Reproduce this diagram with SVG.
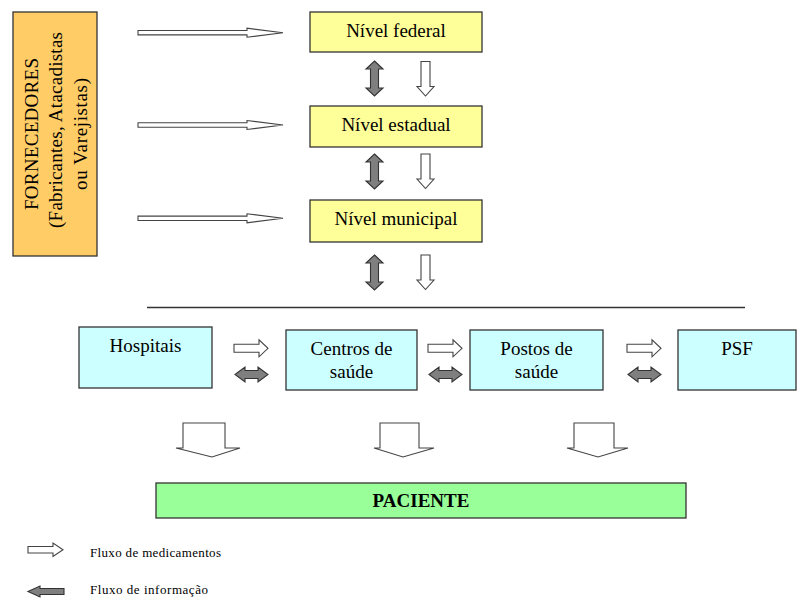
<svg xmlns="http://www.w3.org/2000/svg" width="797" height="598" viewBox="0 0 797 598">
<style>
.box{stroke:#333;stroke-width:1.3}
.t{font-family:"Liberation Serif","Times New Roman",serif;font-size:19px;fill:#000}
.tb{font-family:"Liberation Serif","Times New Roman",serif;font-size:19px;font-weight:bold;fill:#000}
.lg{font-family:"Liberation Serif","Times New Roman",serif;font-size:13px;fill:#000}
.ho{fill:#fff;stroke:#444;stroke-width:1.1;stroke-linejoin:miter}
.gr{fill:#7f7f7f;stroke:#333;stroke-width:1.1}
</style>
<defs>
<path id="hLong" d="M0,-2.2 H109 V-4.5 L145,0 L109,4.5 V2.2 H0 Z"/>
<path id="vDbl" d="M0,0 L8.5,8 H4 V27 H8.5 L0,35 L-8.5,27 H-4 V8 H-8.5 Z"/>
<path id="vDown" d="M-4.5,0 H4.5 V25 H8.5 L0,34.5 L-8.5,25 H-4.5 Z"/>
<path id="hRight" d="M0,-4 H25 V-8.5 L34,0 L25,8.5 V4 H0 Z"/>
<path id="hDbl" d="M0,0 L10,-7.5 V-4 H23 V-7.5 L33,0 L23,7.5 V4 H10 V7.5 Z"/>
</defs>

<g id="fornecedores">
<rect class="box" x="13" y="12" width="84" height="244" fill="#FFCC66"/>
<text class="t" transform="translate(38,210) rotate(-90)" textLength="152" lengthAdjust="spacing">FORNECEDORES</text>
<text class="t" transform="translate(62,228) rotate(-90)" textLength="196" lengthAdjust="spacing">(Fabricantes, Atacadistas</text>
<text class="t" transform="translate(87,190) rotate(-90)" textLength="112" lengthAdjust="spacing">ou Varejistas)</text>
</g>

<g id="nivel-federal">
<rect class="box" x="310" y="12" width="172" height="40" fill="#FFFF99"/>
<text class="t" x="396" y="37" text-anchor="middle">Nível federal</text>
</g>
<g id="nivel-estadual">
<rect class="box" x="310" y="106" width="172" height="41" fill="#FFFF99"/>
<text class="t" x="396" y="131" text-anchor="middle">Nível estadual</text>
</g>
<g id="nivel-municipal">
<rect class="box" x="310" y="200" width="172" height="42" fill="#FFFF99"/>
<text class="t" x="396" y="225" text-anchor="middle">Nível municipal</text>
</g>

<g id="hospitais">
<rect class="box" x="79" y="327" width="133" height="61" fill="#CCFFFF"/>
<text class="t" x="145.5" y="352" text-anchor="middle">Hospitais</text>
</g>
<g id="centros">
<rect class="box" x="286" y="330" width="131" height="60" fill="#CCFFFF"/>
<text class="t" x="351.5" y="355" text-anchor="middle">Centros de</text>
<text class="t" x="351.5" y="378" text-anchor="middle">saúde</text>
</g>
<g id="postos">
<rect class="box" x="470" y="330" width="133" height="60" fill="#CCFFFF"/>
<text class="t" x="536.5" y="355" text-anchor="middle">Postos de</text>
<text class="t" x="536.5" y="378" text-anchor="middle">saúde</text>
</g>
<g id="psf">
<rect class="box" x="678" y="330" width="118" height="60" fill="#CCFFFF"/>
<text class="t" x="737" y="355" text-anchor="middle">PSF</text>
</g>

<g id="paciente">
<rect class="box" x="156" y="483" width="530" height="35" fill="#99FF99"/>
<text class="tb" x="421" y="507" text-anchor="middle">PACIENTE</text>
</g>

<g id="connectors">
<use href="#hLong" class="ho" transform="translate(138,32.7)"/>
<use href="#hLong" class="ho" transform="translate(138,125)"/>
<use href="#hLong" class="ho" transform="translate(138,218.3)"/>

<use href="#vDbl" class="gr" transform="translate(374.5,61)"/>
<use href="#vDbl" class="gr" transform="translate(374.5,154)"/>
<use href="#vDbl" class="gr" transform="translate(374.5,255)"/>
<use href="#vDown" class="ho" transform="translate(425.5,61.5)"/>
<use href="#vDown" class="ho" transform="translate(425.5,154)"/>
<use href="#vDown" class="ho" transform="translate(425.5,255)"/>

<line x1="147" y1="307.5" x2="745" y2="307.5" stroke="#333" stroke-width="1.5"/>

<use href="#hRight" class="ho" transform="translate(234,348.3)"/>
<use href="#hRight" class="ho" transform="translate(428,348.3)"/>
<use href="#hRight" class="ho" transform="translate(627,348.3)"/>
<use href="#hDbl" class="gr" transform="translate(235,374.5)"/>
<use href="#hDbl" class="gr" transform="translate(429,374.5)"/>
<use href="#hDbl" class="gr" transform="translate(628,374.5)"/>

<path class="ho" d="M183,423 H225 V448 H240 L212,457 L176,448 H183 Z"/>
<path class="ho" d="M380,423 H419 V448 H434 L403,457 L374,448 H380 Z"/>
<path class="ho" d="M574,423 H614 V448 H628 L598,457 L567,448 H574 Z"/>
</g>

<g id="legend">
<path class="ho" d="M28,546.5 H53 V543 L63,549.8 L53,556.5 V553 H28 Z"/>
<text class="lg" x="90" y="557" textLength="131" lengthAdjust="spacing">Fluxo de medicamentos</text>
<path class="gr" d="M28,591.5 L40,586 V588.5 H64 V594.5 H40 V597 Z"/>
<text class="lg" x="90" y="594" textLength="118" lengthAdjust="spacing">Fluxo de informação</text>
</g>
</svg>
